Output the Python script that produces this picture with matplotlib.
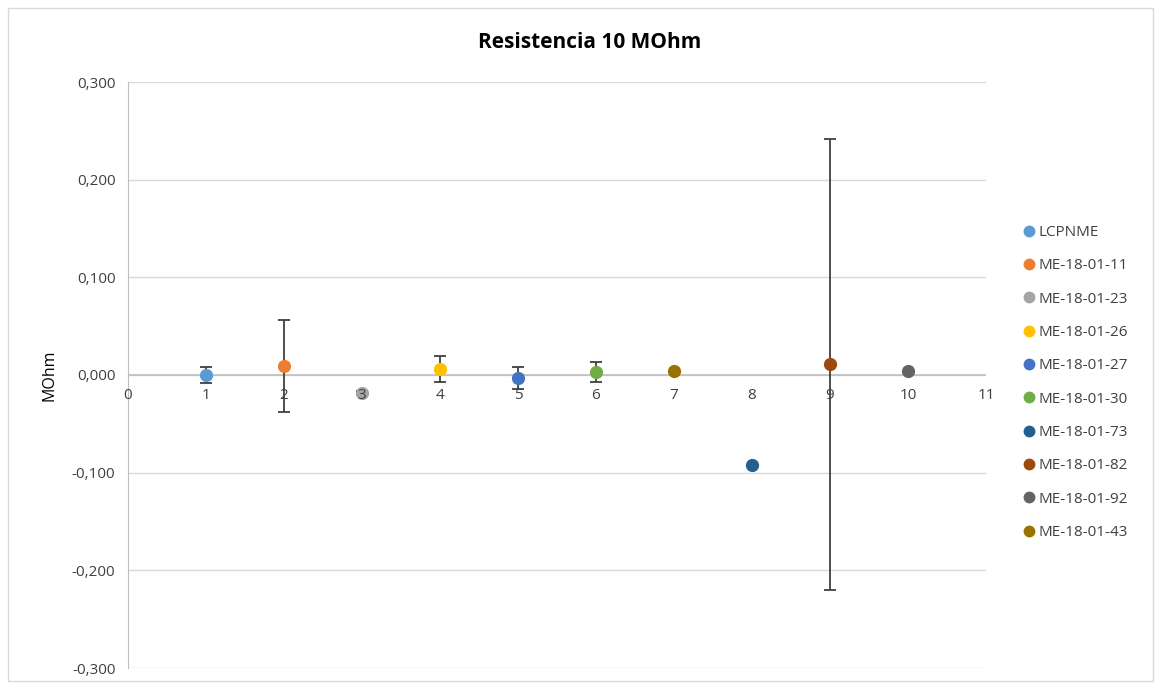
"""Resistencia 10 MOhm: desviaciones por laboratorio con barras de error."""

import matplotlib
matplotlib.use("Agg")
import numpy as np
from matplotlib import pyplot as plt
from matplotlib.lines import Line2D
from matplotlib.ticker import FuncFormatter

labs = ["LCPNME", "ME-18-01-11", "ME-18-01-23", "ME-18-01-26", "ME-18-01-27",
        "ME-18-01-30", "ME-18-01-73", "ME-18-01-82", "ME-18-01-92", "ME-18-01-43"]
x_pos = [1, 2, 3, 4, 5, 6, 8, 9, 10, 7]
y_val = [0.000, 0.009, -0.018, 0.006, -0.003, 0.003, -0.092, 0.011, 0.004, 0.004]
y_err = [0.008, 0.047, 0.002, 0.013, 0.011, 0.010, 0.0, 0.231, 0.0, 0.0]
colors = ["#5B9BD5", "#ED7D31", "#A5A5A5", "#FFC000", "#4472C4",
          "#70AD47", "#255E91", "#9E480E", "#636363", "#997300"]

plt.rcParams["font.family"] = ["Open Sans", "DejaVu Sans"]

fig = plt.figure(figsize=(11.6, 6.83), dpi=100)
ax = fig.add_axes([128 / 1160, 1 - 668 / 683, (986 - 128) / 1160, (668 - 82) / 683])

for lab, x, y, e, c in zip(labs, x_pos, y_val, y_err, colors):
    if e > 0:
        ax.errorbar(x, y, yerr=e, fmt="none", ecolor="#404040",
                    elinewidth=1.3, capsize=4, capthick=1.3, zorder=3)
    ax.plot(x, y, "o", color=c, markersize=8.5, zorder=4)

ax.set_xlim(0, 11)
ax.set_ylim(-0.3, 0.3)
ax.set_yticks(np.arange(-0.3, 0.31, 0.1))
ax.set_xticks(range(0, 12))
ax.yaxis.set_major_formatter(
    FuncFormatter(lambda v, p: f"{v:.3f}".replace(".", ",").replace("-0,000", "0,000")))
ax.grid(axis="y", color="#D9D9D9", linewidth=1)
ax.set_axisbelow(True)

for s in ["top", "right", "bottom"]:
    ax.spines[s].set_visible(False)
ax.spines["left"].set_color("#BFBFBF")
ax.axhline(0, color="#BFBFBF", linewidth=1.2, zorder=1)

ax.tick_params(axis="both", length=0, labelsize=11, colors="#404040")
ax.tick_params(axis="y", pad=9)
# x tick labels sit just below the zero line, as in Excel (drawn over the markers)
ax.set_xticklabels([])
for t in range(0, 12):
    ax.text(t, -0.013, str(t), ha="center", va="top", fontsize=11, color="#404040", zorder=5)

ax.set_ylabel("MOhm", fontsize=11.5, color="#000000", labelpad=10)
fig.text(590 / 1160, 1 - 42 / 683, "Resistencia 10 MOhm", ha="center", va="center",
         fontsize=15, fontweight="bold", color="#000000")

handles = [Line2D([], [], linestyle="none", marker="o", markersize=7.5, color=c) for c in colors]
leg = ax.legend(handles, labs, loc="center left", bbox_to_anchor=(1.025, 0.487), frameon=False,
                fontsize=11, labelspacing=1.2, handletextpad=0.15, handlelength=1.0)
for txt in leg.get_texts():
    txt.set_color("#404040")

fig.patches.append(plt.Rectangle((8 / 1160, 1 - 681 / 683), 1145 / 1160, 673 / 683,
                                 transform=fig.transFigure, fill=False,
                                 edgecolor="#D9D9D9", linewidth=1))

fig.savefig("out.png", dpi=100)
